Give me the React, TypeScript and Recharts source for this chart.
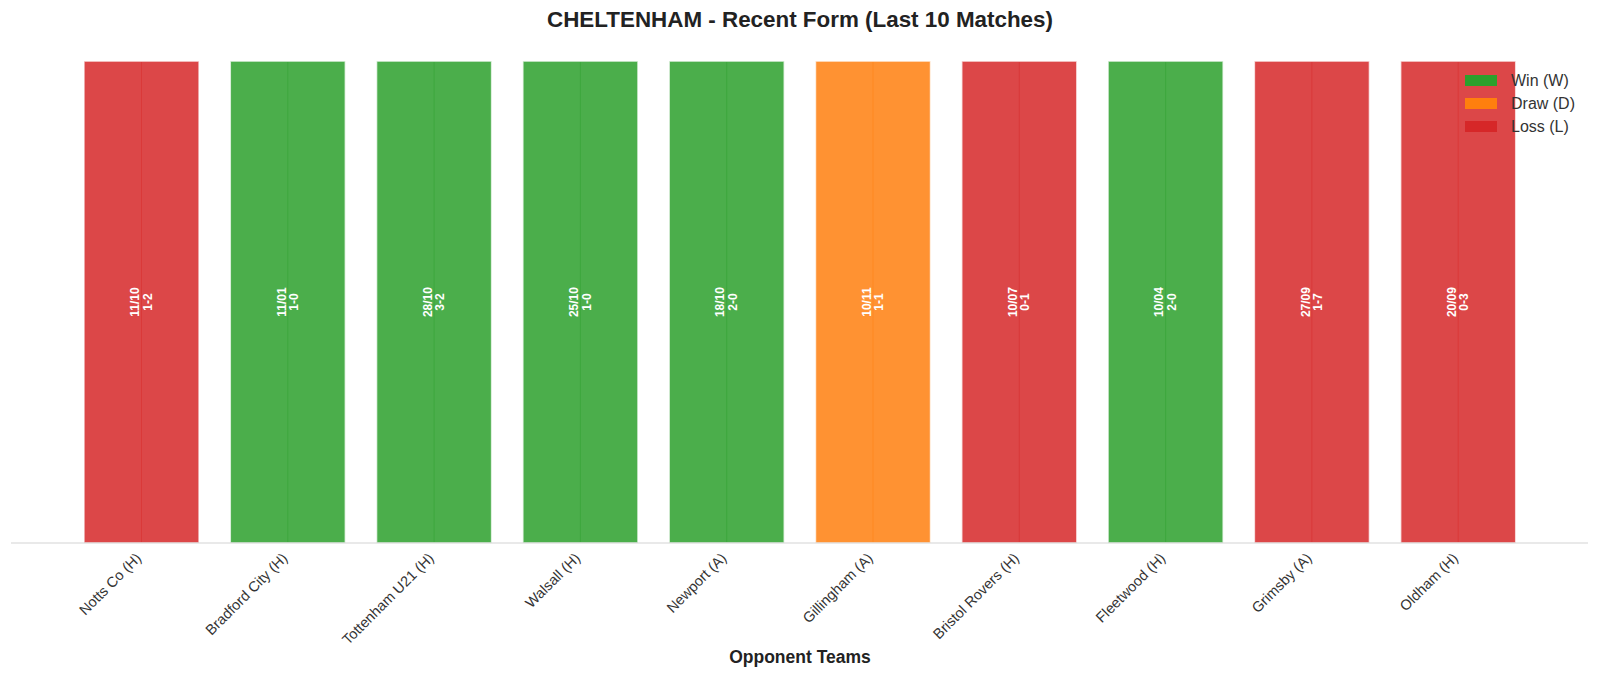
import { BarChart, Bar, XAxis, YAxis, LabelList } from 'recharts'

const opponents = [
  'Notts Co (H)', 'Bradford City (H)', 'Tottenham U21 (H)', 'Walsall (H)', 'Newport (A)',
  'Gillingham (A)', 'Bristol Rovers (H)', 'Fleetwood (H)', 'Grimsby (A)', 'Oldham (H)',
]
const dates = ['11/10', '11/01', '28/10', '25/10', '18/10', '10/11', '10/07', '10/04', '27/09', '20/09']
const scores = ['1-2', '1-0', '3-2', '1-0', '2-0', '1-1', '0-1', '2-0', '1-7', '0-3']
const results = ['L', 'W', 'W', 'W', 'W', 'D', 'L', 'W', 'L', 'L']

const kleur: Record<string, string> = { W: '#2ca02c', D: '#ff7f0e', L: '#d62728' }
const legendItems = [
  { key: 'W', label: 'Win (W)' },
  { key: 'D', label: 'Draw (D)' },
  { key: 'L', label: 'Loss (L)' },
]

const data = opponents.map((team, i) => ({
  team,
  datum: dates[i],
  score: scores[i],
  result: results[i],
  value: 1,
}))

const FONT = '"Liberation Sans", Arial, sans-serif'

function FormBar(props: any) {
  const { x, y, width, height, payload } = props
  const c = kleur[payload.result]
  const mid = x + width / 2
  return (
    <g>
      <rect x={x} y={y} width={width} height={height} fill={c} fillOpacity={0.85}
        stroke="#fff" strokeOpacity={0.7} strokeWidth={1.5} />
      <line x1={mid} x2={mid} y1={y + 1} y2={y + height - 1} stroke={c} strokeOpacity={0.45} strokeWidth={1} />
    </g>
  )
}

function BarText(props: any) {
  const { x, y, width, height, index } = props
  const cx = x + width / 2
  const cy = y + height / 2
  const style = { fontFamily: FONT, fontSize: 12, fontWeight: 700, fill: '#fff' }
  return (
    <g>
      <text x={cx - 6.2} y={cy} transform={`rotate(-90 ${cx - 6.2} ${cy})`} textAnchor="middle"
        dominantBaseline="central" style={style}>{dates[index]}</text>
      <text x={cx + 6.2} y={cy} transform={`rotate(-90 ${cx + 6.2} ${cy})`} textAnchor="middle"
        dominantBaseline="central" style={style}>{scores[index]}</text>
    </g>
  )
}

function TeamTick(props: any) {
  const { x, y, payload } = props
  return (
    <g transform={`translate(${x + 1},${y + 16})`}>
      <text x={0} y={0} textAnchor="end" transform="rotate(-45)"
        style={{ fontFamily: FONT, fontSize: 14.5, fill: '#333' }}>{payload.value}</text>
    </g>
  )
}

function FormLegend() {
  return (
    <div style={{ fontFamily: FONT, fontSize: 16, color: '#333' }}>
      {legendItems.map((it) => (
        <div key={it.key} style={{ display: 'flex', alignItems: 'center', height: 23 }}>
          <span style={{ width: 32, height: 11, background: kleur[it.key], marginRight: 14, display: 'inline-block' }} />
          {it.label}
        </div>
      ))}
    </div>
  )
}

export default function App() {
  return (
    <div style={{ position: 'absolute', left: 0, top: 0, width: 1600, height: 679, background: '#fff' }}>
      <div style={{ position: 'absolute', left: 0, width: 1600, top: 7, textAlign: 'center',
        fontFamily: FONT, fontSize: 22.4, fontWeight: 700, color: '#222' }}>
        CHELTENHAM - Recent Form (Last 10 Matches)
      </div>
      <BarChart width={1600} height={679} data={data} barSize={115}
        margin={{ top: 37, right: 12, bottom: 106, left: 11 }}>
        <XAxis dataKey="team" interval={0} height={30} padding={{ left: 57, right: 57 }}
          axisLine={{ stroke: '#d3d3d3', strokeWidth: 1 }} tickLine={false} tickSize={0} tickMargin={0}
          tick={<TeamTick />} />
        <YAxis hide domain={[0, 1.05]} />
        <Bar dataKey="value" shape={<FormBar />} isAnimationActive={false}>
          <LabelList dataKey="value" content={<BarText />} />
        </Bar>
      </BarChart>
      <div style={{ position: 'absolute', left: 1465, top: 69 }}>
        <FormLegend />
      </div>
      <div style={{ position: 'absolute', left: 0, width: 1600, top: 647, textAlign: 'center',
        fontFamily: FONT, fontSize: 17.5, fontWeight: 700, color: '#222' }}>
        Opponent Teams
      </div>
    </div>
  )
}
